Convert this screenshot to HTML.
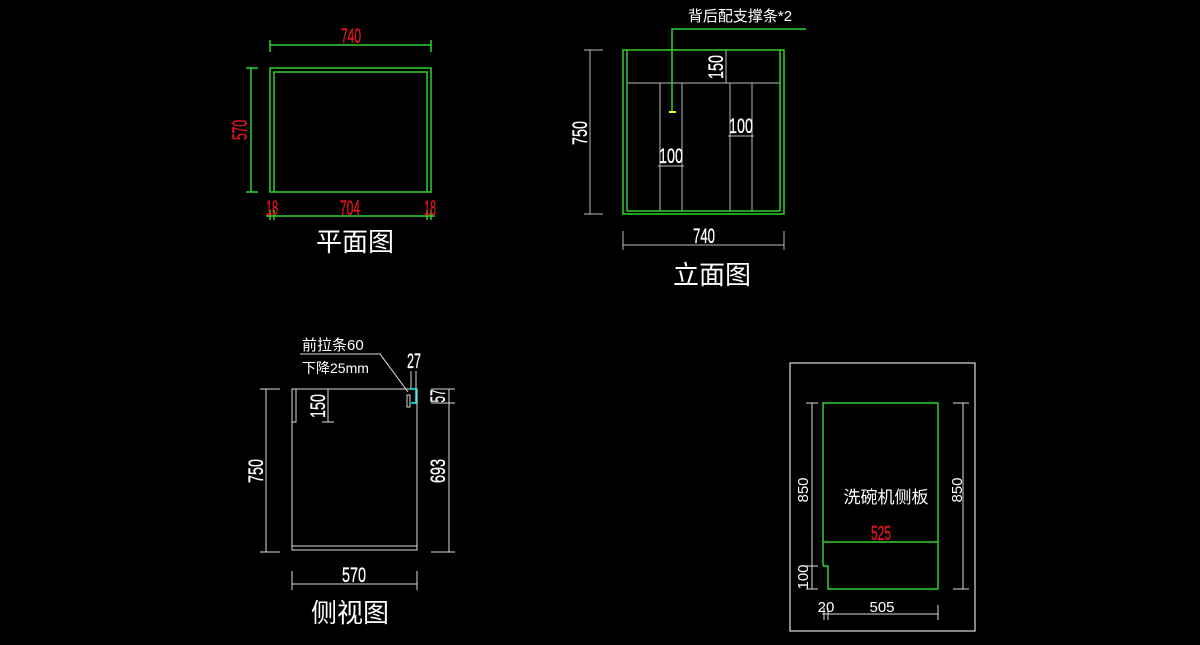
<!DOCTYPE html>
<html><head><meta charset="utf-8"><style>
html,body{margin:0;padding:0;background:#000;width:1200px;height:645px;overflow:hidden}
svg{display:block}
text{font-family:"Liberation Sans","Noto Sans CJK SC",sans-serif}
.n{font-family:"Liberation Sans Narrow","Liberation Sans",sans-serif}
</style></head><body>
<svg width="1200" height="645" viewBox="0 0 1200 645" xmlns="http://www.w3.org/2000/svg">
<rect width="1200" height="645" fill="#000"/>
<!-- Plan view -->
<g stroke="#2fd12f" stroke-width="1.5" fill="none">
<rect x="270" y="68" width="161" height="124"/>
<polyline points="274,192 274,72 427,72 427,192"/>
<line x1="270" y1="45" x2="431" y2="45"/>
<line x1="270" y1="40" x2="270" y2="52"/><line x1="431" y1="40" x2="431" y2="52"/>
<line x1="251" y1="68" x2="251" y2="192"/>
<line x1="246" y1="68" x2="258" y2="68"/><line x1="246" y1="192" x2="258" y2="192"/>
<line x1="266" y1="216" x2="435" y2="216"/>
<line x1="270" y1="210" x2="270" y2="220"/><line x1="274" y1="210" x2="274" y2="220"/>
<line x1="427" y1="210" x2="427" y2="220"/><line x1="431" y1="210" x2="431" y2="220"/>
</g>
<g fill="#e0141a" font-size="21" text-anchor="middle" class="n" stroke="#e0141a" stroke-width="0.4">
<text x="351" y="43" textLength="20" lengthAdjust="spacingAndGlyphs">740</text>
<text x="0" y="0" transform="translate(247,130) rotate(-90)" textLength="20" lengthAdjust="spacingAndGlyphs">570</text>
<text x="272" y="215" textLength="12" lengthAdjust="spacingAndGlyphs">18</text>
<text x="350" y="215" textLength="20" lengthAdjust="spacingAndGlyphs">704</text>
<text x="430" y="215" textLength="12" lengthAdjust="spacingAndGlyphs">18</text>
</g>
<text x="355" y="251" fill="#fff" font-size="26" text-anchor="middle">平面图</text>

<!-- Elevation -->
<g stroke="#bbb" stroke-width="1" fill="none">
<line x1="623" y1="50" x2="784" y2="50"/>
<line x1="627" y1="83" x2="780" y2="83"/>
<line x1="660" y1="83" x2="660" y2="211"/><line x1="682" y1="83" x2="682" y2="211"/>
<line x1="730" y1="83" x2="730" y2="211"/><line x1="752" y1="83" x2="752" y2="211"/>
<line x1="726" y1="50" x2="726" y2="83"/>
<line x1="658" y1="166" x2="684" y2="166"/><line x1="728" y1="136" x2="754" y2="136"/>
<line x1="590" y1="50" x2="590" y2="214"/>
<line x1="584" y1="50" x2="603" y2="50"/><line x1="584" y1="214" x2="603" y2="214"/>
<line x1="623" y1="245" x2="784" y2="245"/>
<line x1="623" y1="231" x2="623" y2="250"/><line x1="784" y1="231" x2="784" y2="250"/>
</g>
<g stroke="#2fd12f" stroke-width="1.5" fill="none">
<rect x="623" y="50" width="161" height="164"/>
<line x1="627" y1="50" x2="627" y2="211"/><line x1="780" y1="50" x2="780" y2="211"/>
<line x1="627" y1="211" x2="780" y2="211"/>
<polyline points="806,29 672,29 672,111"/>
</g>
<line x1="669" y1="112" x2="676" y2="112" stroke="#ff0" stroke-width="2"/>
<g fill="#fff" font-size="21" text-anchor="middle" class="n" stroke="#fff" stroke-width="0.3">
<text x="0" y="0" transform="translate(723,67) rotate(-90)" textLength="24" lengthAdjust="spacingAndGlyphs">150</text>
<text x="671" y="163" textLength="24" lengthAdjust="spacingAndGlyphs">100</text>
<text x="741" y="133" textLength="24" lengthAdjust="spacingAndGlyphs">100</text>
<text x="0" y="0" transform="translate(587,133) rotate(-90)" textLength="24" lengthAdjust="spacingAndGlyphs">750</text>
<text x="704" y="243" textLength="22" lengthAdjust="spacingAndGlyphs">740</text>
</g>
<text x="740" y="21" fill="#fff" font-size="15" text-anchor="middle">背后配支撑条*2</text>
<text x="712" y="284" fill="#fff" font-size="26" text-anchor="middle">立面图</text>

<!-- Side view -->
<g stroke="#ddd" stroke-width="1" fill="none">
<rect x="292" y="389" width="125" height="161"/>
<line x1="292" y1="546" x2="417" y2="546"/>
<polyline points="296,389 296,422 292,422"/>
<line x1="328" y1="389" x2="328" y2="422"/>
<line x1="322" y1="389" x2="334" y2="389"/><line x1="322" y1="422" x2="334" y2="422"/>
<line x1="266" y1="389" x2="266" y2="552"/>
<line x1="260" y1="389" x2="280" y2="389"/><line x1="260" y1="552" x2="280" y2="552"/>
<line x1="449" y1="389" x2="449" y2="552"/>
<line x1="431" y1="389" x2="455" y2="389"/><line x1="431" y1="403" x2="455" y2="403"/><line x1="431" y1="552" x2="455" y2="552"/>
<line x1="292" y1="584" x2="417" y2="584"/>
<line x1="292" y1="571" x2="292" y2="590"/><line x1="417" y1="571" x2="417" y2="590"/>
<polyline points="300,354 380,354 408,392"/>
<line x1="411" y1="371" x2="411" y2="389"/><line x1="416" y1="371" x2="416" y2="389"/>
<rect x="407" y="395" width="3" height="12"/>
</g>
<polyline points="411,389 416,389 416,403 411,403" stroke="#0ff" stroke-width="1.5" fill="none"/>
<g fill="#fff" font-size="21" text-anchor="middle" class="n" stroke="#fff" stroke-width="0.3">
<text x="0" y="0" transform="translate(325,406) rotate(-90)" textLength="24" lengthAdjust="spacingAndGlyphs">150</text>
<text x="0" y="0" transform="translate(263,471) rotate(-90)" textLength="24" lengthAdjust="spacingAndGlyphs">750</text>
<text x="0" y="0" transform="translate(445,471) rotate(-90)" textLength="24" lengthAdjust="spacingAndGlyphs">693</text>
<text x="0" y="0" transform="translate(445,396) rotate(-90)" textLength="13" lengthAdjust="spacingAndGlyphs">57</text>
<text x="414" y="368" textLength="14" lengthAdjust="spacingAndGlyphs">27</text>
<text x="354" y="582" textLength="24" lengthAdjust="spacingAndGlyphs">570</text>
</g>
<text x="302" y="350" fill="#fff" font-size="15">前拉条60</text>
<text x="302" y="373" fill="#fff" font-size="14">下降25mm</text>
<text x="350" y="622" fill="#fff" font-size="26" text-anchor="middle">侧视图</text>

<!-- Dishwasher panel -->
<rect x="790" y="363" width="185" height="268" stroke="#ddd" stroke-width="1.2" fill="none"/>
<g stroke="#2fd12f" stroke-width="1.5" fill="none">
<polyline points="823,566 823,403 938,403 938,589 828,589 828,566 823,566"/>
<line x1="823" y1="542" x2="938" y2="542"/>
</g>
<g stroke="#ddd" stroke-width="1" fill="none">
<line x1="812" y1="403" x2="812" y2="589"/>
<line x1="806" y1="403" x2="818" y2="403"/><line x1="806" y1="566" x2="818" y2="566"/><line x1="806" y1="589" x2="818" y2="589"/>
<line x1="963" y1="403" x2="963" y2="589"/>
<line x1="953" y1="403" x2="969" y2="403"/><line x1="953" y1="589" x2="969" y2="589"/>
<line x1="822" y1="614" x2="938" y2="614"/>
<line x1="824" y1="608" x2="824" y2="620"/><line x1="828" y1="608" x2="828" y2="620"/><line x1="938" y1="605" x2="938" y2="620"/>
</g>
<g fill="#fff" font-size="15" text-anchor="middle">
<text x="0" y="0" transform="translate(808,490) rotate(-90)">850</text>
<text x="0" y="0" transform="translate(962,490) rotate(-90)">850</text>
<text x="0" y="0" transform="translate(808,577) rotate(-90)">100</text>
<text x="826" y="612">20</text>
<text x="882" y="612">505</text>
<text x="886" y="503" font-size="17">洗碗机侧板</text>
</g>
<text x="881" y="540" fill="#e0141a" font-size="20" text-anchor="middle" class="n" stroke="#e0141a" stroke-width="0.4" textLength="20" lengthAdjust="spacingAndGlyphs">525</text>
</svg>
</body></html>
